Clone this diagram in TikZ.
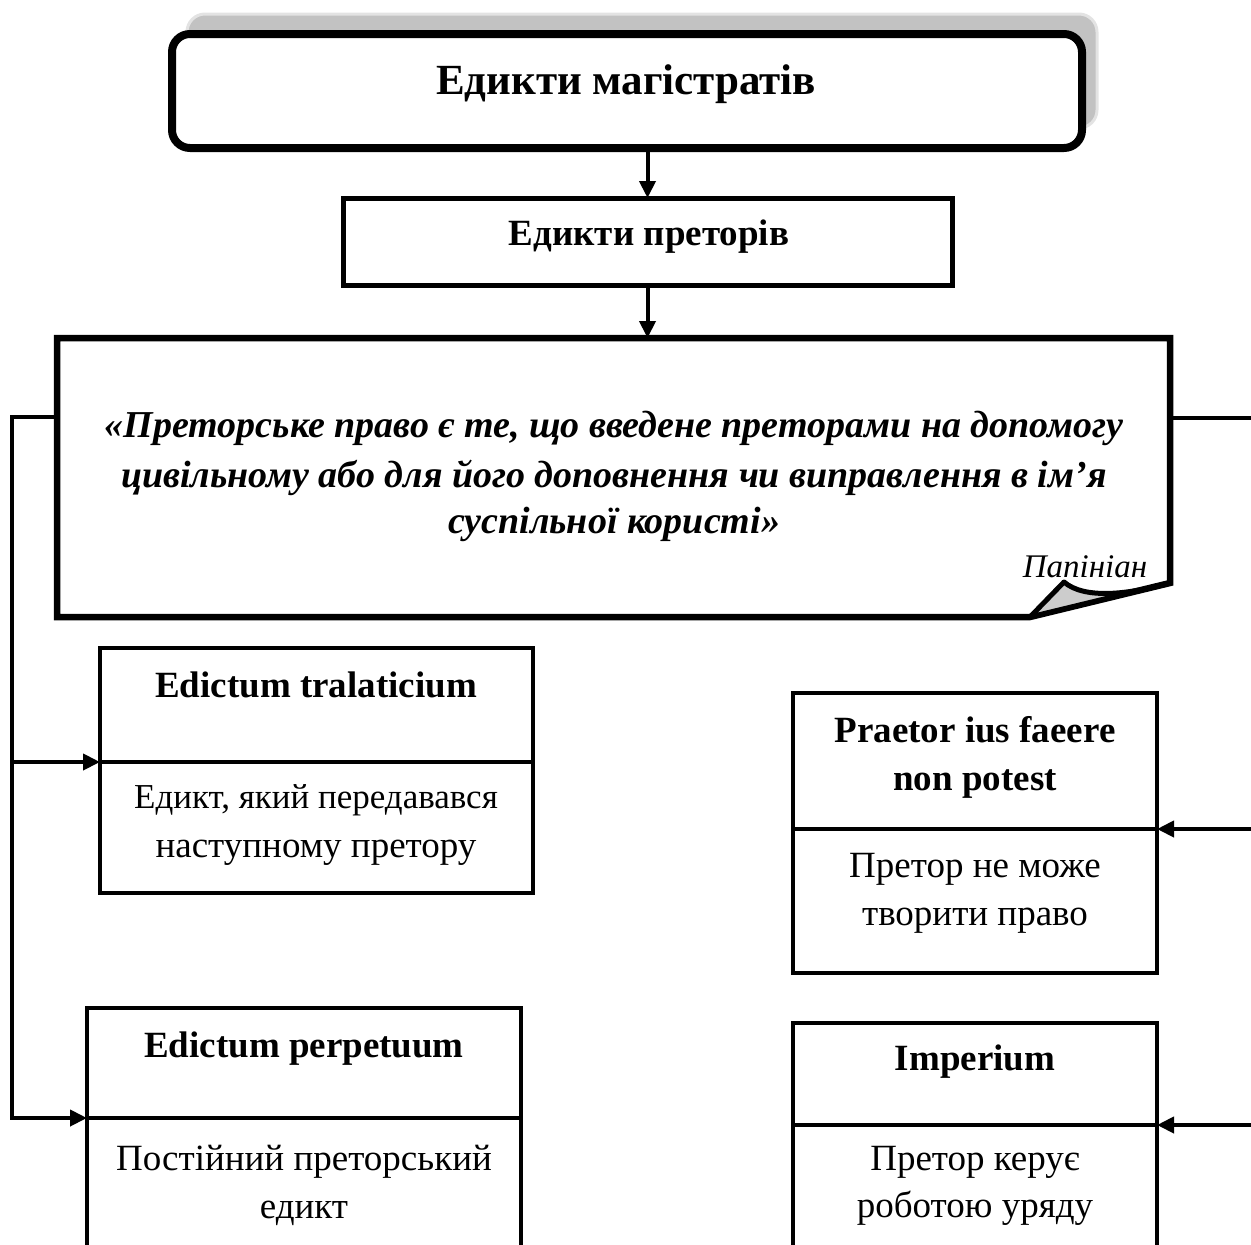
\documentclass[tikz,border=0pt]{standalone}
\usepackage{fontspec}
\setmainfont{Liberation Serif}
\usetikzlibrary{arrows.meta}
\begin{document}
\begin{tikzpicture}[x=1pt,y=-1pt,
  box/.style={draw, line width=4.5pt, rectangle, inner sep=0pt, outer sep=0pt},
  btxt/.style={font=\fontsize{37}{44}\selectfont\bfseries, anchor=base, inner sep=0pt},
  rtxt/.style={font=\fontsize{37}{44}\selectfont, anchor=base, inner sep=0pt},
  qtxt/.style={font=\fontsize{38}{46}\selectfont\bfseries\itshape, anchor=base, inner sep=0pt},
  conn/.style={line width=4pt},
  arr/.style={conn, -{Triangle[length=17pt,width=16pt]}}]
\useasboundingbox (0,0) rectangle (1251,1245);
\clip (0,0) rectangle (1251,1245);

% top box with shadow
\node[fill=gray!48, draw=gray!22, line width=3pt, rounded corners=18pt,
      minimum width=910pt, minimum height=114pt, inner sep=0pt] (magsh) at (642,71) {};
\node[draw, fill=white, line width=8pt, rounded corners=18pt,
      minimum width=910pt, minimum height=114pt, inner sep=0pt] (mag) at (627,91) {};
\node[btxt, font=\fontsize{43}{50}\selectfont\bfseries] (magt) at (626,94) {Едикти магістратів};

% praetors' edicts
\node[box, line width=5pt, minimum width=609pt, minimum height=87pt] (pret) at (647.5,241.5) {};
\node[btxt] (prett) at (649,245) {Едикти преторів};

% quote box
\coordinate (qTL) at (57,338);
\coordinate (qTR) at (1170,338);
\coordinate (qR) at (1170,583);
\coordinate (qF) at (1030,617);
\coordinate (qBL) at (57,617);
\coordinate (qTop) at (647.5,338);
\coordinate (qL) at (57,417);
\coordinate (qRc) at (1170,418);
\draw[line width=6.5pt, line join=miter] (qTL) -- (qTR) -- (qR) -- (qF) -- (qBL) -- cycle;
\draw[line width=5pt, fill=gray!40, line join=round] (qF) -- (1064,582) .. controls (1085,600) and (1130,594) .. (qR) -- cycle;
\node[qtxt] (q1) at (614,437) {«Преторське право є те, що введене преторами на допомогу};
\node[qtxt] (q2) at (614,487) {цивільному або для його доповнення чи виправлення в ім’я};
\node[qtxt] (q3) at (614,533) {суспільної користі»};
\node[font=\fontsize{33}{33}\selectfont\itshape, anchor=base, inner sep=0pt] (pap) at (1085,577) {Папініан};

% arrows top
\draw[arr] (mag.south -| pret.north) -- (pret.north);
\draw[arr] (pret.south) -- (qTop);

% lower boxes
\node[box, minimum width=433pt, minimum height=245pt] (tral) at (316.5,770.5) {};
\coordinate (tralL) at (100,762);
\coordinate (tralR) at (533,762);
\draw[line width=4.5pt] (tralL) -- (tralR);
\node[btxt] (tralt) at (316,697) {Edictum tralaticium};
\node[rtxt, font=\fontsize{35}{42}\selectfont] (tral1) at (316,808) {Едикт, який передавався};
\node[rtxt] (tral2) at (316,857) {наступному претору};

\node[box, minimum width=364pt, minimum height=280pt] (prae) at (975,833) {};
\coordinate (praeL) at (793,829);
\coordinate (praeR) at (1157,829);
\draw[line width=4.5pt] (praeL) -- (praeR);
\node[btxt] (praet1) at (975,742) {Praetor ius faeere};
\node[btxt] (praet2) at (975,790) {non potest};
\node[rtxt] (prae1) at (975,877) {Претор не може};
\node[rtxt] (prae2) at (975,925) {творити право};

\node[box, minimum width=434pt, minimum height=292pt] (perp) at (304,1154) {};
\coordinate (perpL) at (87,1118);
\coordinate (perpR) at (521,1118);
\draw[line width=4.5pt] (perpL) -- (perpR);
\node[btxt] (perpt) at (304,1057) {Edictum perpetuum};
\node[rtxt] (perp1) at (304,1170) {Постійний преторський};
\node[rtxt] (perp2) at (304,1218) {едикт};

\node[box, minimum width=364pt, minimum height=277pt] (imp) at (975,1161.5) {};
\coordinate (impL) at (793,1125);
\coordinate (impR) at (1157,1125);
\draw[line width=4.5pt] (impL) -- (impR);
\node[btxt] (impt) at (975,1070) {Imperium};
\node[rtxt] (imp1) at (975,1170) {Претор керує};
\node[rtxt] (imp2) at (975,1217) {роботою уряду};

% connectors
\coordinate (lftB) at (12,1118);
\coordinate (lftM) at (12,762);
\coordinate (rgtT) at (1251,418);
\coordinate (rgtM) at (1251,829);
\coordinate (rgtB) at (1251,1125);
\draw[arr] (qL) -| (lftB) -- (perpL);
\draw[arr] (lftM) -- (tralL);
\draw[conn] (qRc) -- (rgtT);
\draw[arr] (rgtM) -- (praeR);
\draw[arr] (rgtB) -- (impR);
\end{tikzpicture}
\end{document}
